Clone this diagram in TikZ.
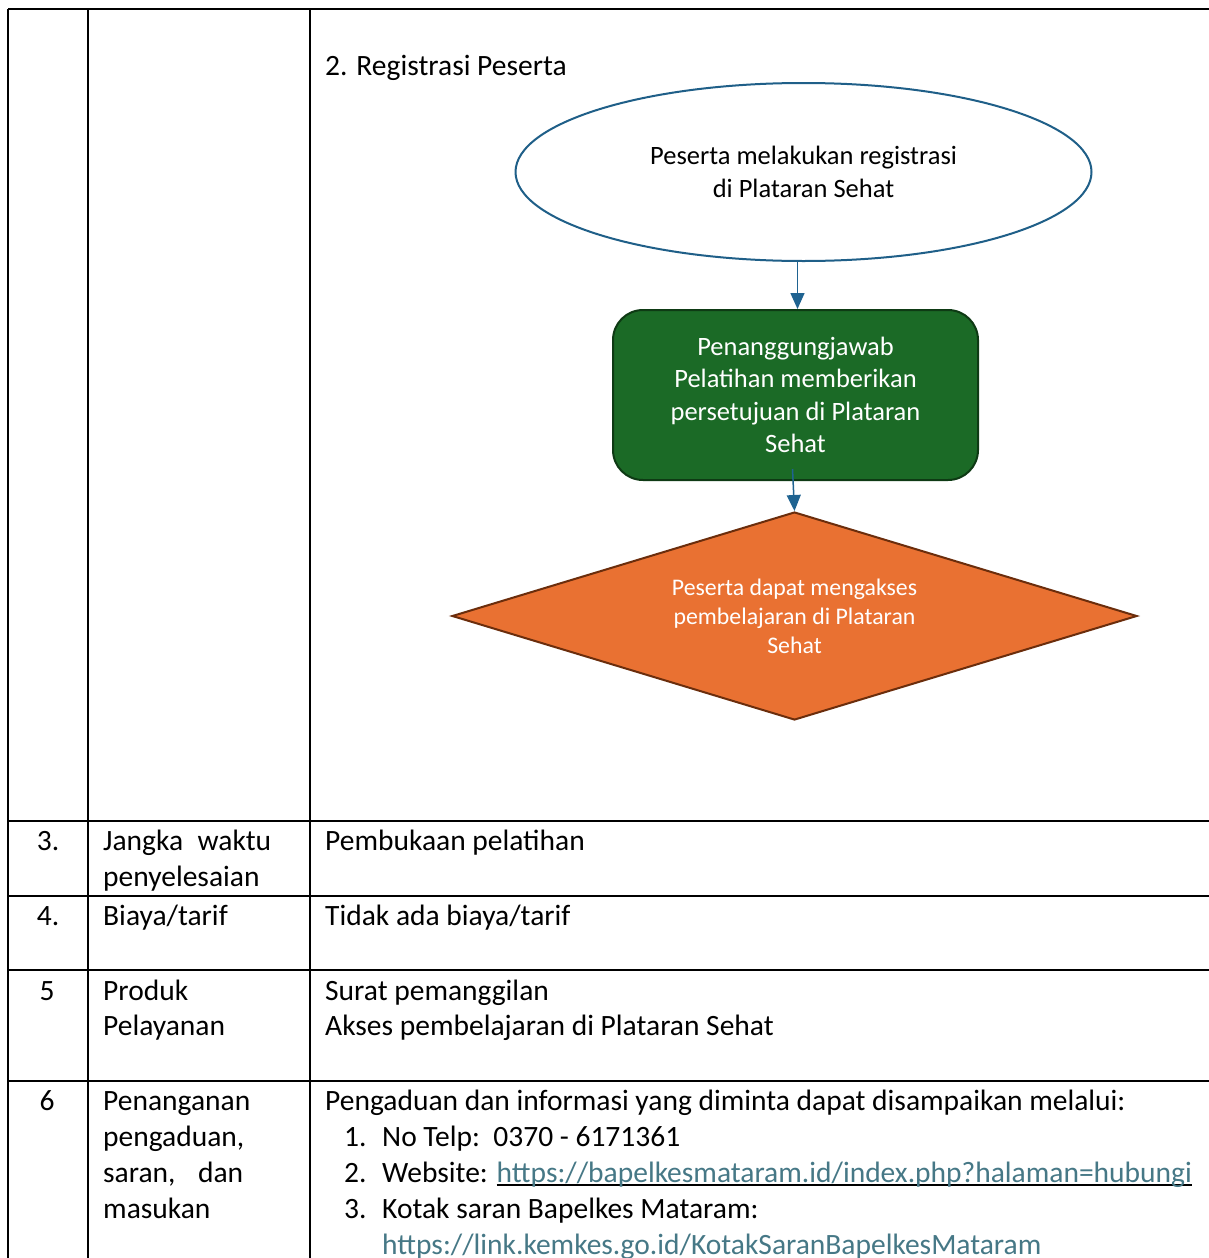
\documentclass[tikz,border=0pt]{standalone}
\usepackage{fontspec}
\setmainfont{Carlito}
\usetikzlibrary{shapes.geometric,arrows.meta}
\definecolor{linkc}{HTML}{467886}
\definecolor{arrc}{HTML}{1F6391}
\definecolor{ellc}{HTML}{1F5F88}
\definecolor{grfill}{HTML}{1B6A26}
\definecolor{grdraw}{HTML}{0E3A14}
\definecolor{orfill}{HTML}{E97132}
\definecolor{ordraw}{HTML}{6B2D0C}
\newcommand\myul[1]{\setbox0\hbox{#1}\rlap{\rule[-3.5pt]{\wd0}{1.5pt}}\box0}
\begin{document}
\begin{tikzpicture}[x=1pt,y=-1pt,
  tablerule/.style={line width=2pt,black},
  txt/.style={anchor=base west,inner sep=0pt,font=\fontsize{29.5}{36}\selectfont},
  num/.style={anchor=base,inner sep=0pt,font=\fontsize{29.5}{36}\selectfont},
  arr/.style={draw=arrc,line width=1.5pt,-{Triangle[width=14pt,length=16pt]}},
  startbox/.style={ellipse,draw=ellc,line width=2pt,fill=white,minimum width=576pt,minimum height=178pt,inner sep=0pt,align=center,font=\fontsize{26.5}{33}\selectfont},
  procbox/.style={draw=grdraw,fill=grfill,line width=2pt,rounded corners=30pt,minimum width=365pt,minimum height=170pt,inner sep=0pt,text=white,align=center,font=\fontsize{26.5}{32.5}\selectfont},
  decbox/.style={diamond,aspect=3.3,draw=ordraw,fill=orfill,line width=2pt,minimum width=685pt,minimum height=208pt,inner sep=0pt,text=white,align=center,font=\fontsize{23.8}{29}\selectfont}
]
\useasboundingbox (0,0) rectangle (1209,1258);
\fill[white] (0,0) rectangle (1209,1258);
% table rules
\draw[tablerule] (8,9) -- (1209,9);
\foreach \yy in {821,896,970,1081} \draw[tablerule] (8,\yy) -- (1209,\yy);
\foreach \xx in {8,88,310} \draw[tablerule] (\xx,9) -- (\xx,1258);
% flowchart
\node[txt] (t2) at (325,75) {2. Registrasi Peserta};
\node[startbox] (e) at (803.5,172) {Peserta melakukan registrasi\\di Plataran Sehat};
\node[procbox] (g) at (795.5,395) {Penanggungjawab\\Pelatihan memberikan\\persetujuan di Plataran\\Sehat};
\node[decbox] (d) at (794.5,616) {Peserta dapat mengakses\\pembelajaran di Plataran\\Sehat};
\draw[arr] ([xshift=-6pt]e.south) -- ([xshift=2pt]g.north);
\draw[arr] ([xshift=-3pt,yshift=12pt]g.south) -- (d.north);
% row 3
\node[num] (n3) at (48,850) {3.};
\node[txt] (a3) at (103,850) {\makebox[168pt][s]{Jangka waktu}};
\node[txt] (a3b) at (103,886) {penyelesaian};
\node[txt] (b3) at (325,850) {Pembukaan pelatihan};
% row 4
\node[num] (n4) at (48,925) {4.};
\node[txt] (a4) at (103,925) {Biaya/tarif};
\node[txt] (b4) at (325,925) {Tidak ada biaya/tarif};
% row 5
\node[num] (n5) at (47,1000) {5};
\node[txt] (a5) at (103,1000) {Produk};
\node[txt] (a5b) at (103,1035) {Pelayanan};
\node[txt] (b5) at (325,1000) {Surat pemanggilan};
\node[txt] (b5b) at (325,1035) {Akses pembelajaran di Plataran Sehat};
% row 6
\node[num] (n6) at (47,1110) {6};
\node[txt] (a6) at (103,1110) {Penanganan};
\node[txt] (a6b) at (103,1146) {pengaduan,};
\node[txt] (a6c) at (103,1182) {\makebox[140pt][s]{saran, dan}};
\node[txt] (a6d) at (103,1218) {masukan};
\node[txt] (b6) at (325,1110) {Pengaduan dan informasi yang diminta dapat disampaikan melalui:};
\node[txt] (l1n) at (344,1146) {1.};
\node[txt] (l1) at (382,1146) {No Telp:\ \ 0370 - 6171361};
\node[txt] (l2n) at (344,1182) {2.};
\node[txt] (l2) at (382,1182) {Website: \myul{\textcolor{linkc}{https://bapelkesmataram.id/index.php?halaman=hubungi}}};
\node[txt] (l3n) at (344,1218) {3.};
\node[txt] (l3) at (382,1218) {Kotak saran Bapelkes Mataram:};
\node[txt] (l3b) at (382,1254) {\textcolor{linkc}{https://link.kemkes.go.id/KotakSaranBapelkesMataram}};
\end{tikzpicture}
\end{document}
